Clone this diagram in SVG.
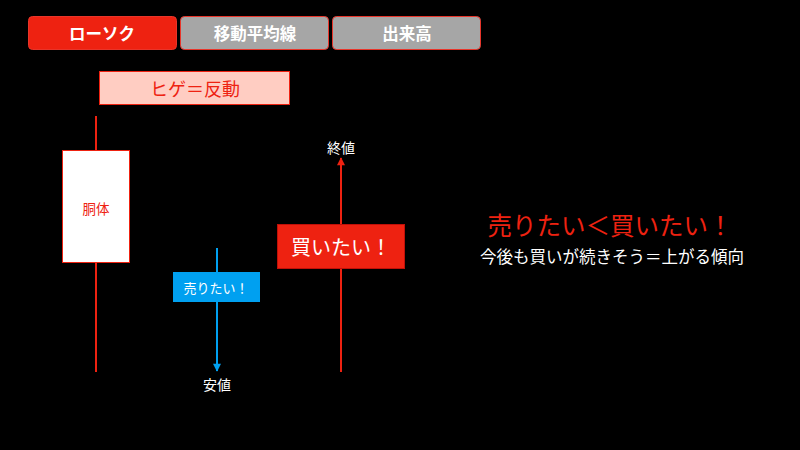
<svg xmlns="http://www.w3.org/2000/svg" width="800" height="450" viewBox="0 0 800 450">
<defs>
<style>
text{font-family:"Noto Sans CJK JP","Noto Sans",sans-serif;text-anchor:middle;dominant-baseline:central}
.tab{stroke:#e8352a;stroke-width:1}
.tabt{fill:#fff;font-size:16.5px;font-weight:bold}
.w{fill:#fff}
</style>
<marker id="ab" viewBox="0 0 10 10" refX="9" refY="5" markerWidth="10" markerHeight="8" markerUnits="userSpaceOnUse" orient="auto"><path d="M0,0L10,5L0,10Z" fill="#00a0f0"/></marker>
<marker id="ar" viewBox="0 0 10 10" refX="9" refY="5" markerWidth="10" markerHeight="8" markerUnits="userSpaceOnUse" orient="auto"><path d="M0,0L10,5L0,10Z" fill="#ee2211"/></marker>
</defs>
<rect width="800" height="450" fill="#000"/>
<g id="tab1"><rect class="tab" x="28.5" y="16.5" width="148" height="33" rx="4" fill="#ee2211"/><text class="tabt" x="102" y="33">ローソク</text></g>
<g id="tab2"><rect class="tab" x="180.5" y="16.5" width="148" height="33" rx="4" fill="#a6a6a6"/><text class="tabt" x="255" y="33">移動平均線</text></g>
<g id="tab3"><rect class="tab" x="332.5" y="16.5" width="148" height="33" rx="4" fill="#a6a6a6"/><text class="tabt" x="407" y="33">出来高</text></g>
<g id="hige"><rect x="99.5" y="71.5" width="190" height="33" fill="#ffcdc2" stroke="#ee2211"/><text x="195" y="88" fill="#ee2211" font-size="18">ヒゲ＝反動</text></g>
<g id="connectors">
<line x1="96" y1="116" x2="96" y2="372" stroke="#ee2211" stroke-width="2"/>
<line x1="217" y1="248" x2="217" y2="371" stroke="#00a0f0" stroke-width="2" marker-end="url(#ab)"/>
<line x1="341" y1="372" x2="341" y2="158" stroke="#ee2211" stroke-width="2" marker-end="url(#ar)"/>
</g>
<g id="body"><rect x="62.5" y="150.5" width="67" height="112" fill="#fff" stroke="#ee2211"/><text x="96" y="208" fill="#ee2211" font-size="13.5">胴体</text></g>
<g id="sell"><rect x="173" y="272" width="87" height="30" fill="#00a0f0"/><text class="w" x="216" y="287" font-size="13">売りたい！</text></g>
<g id="low"><text class="w" x="217" y="384" font-size="14">安値</text></g>
<g id="buy"><rect x="277.5" y="224.5" width="127" height="44" fill="#ee2211" stroke="#c01008"/><text class="w" x="341" y="246" font-size="20">買いたい！</text></g>
<g id="close"><text class="w" x="341" y="147" font-size="14">終値</text></g>
<g id="summary"><text x="610" y="224" fill="#ee2211" font-size="24.5">売りたい＜買いたい！</text><text class="w" x="612" y="256" font-size="16.5">今後も買いが続きそう＝上がる傾向</text></g>
</svg>
